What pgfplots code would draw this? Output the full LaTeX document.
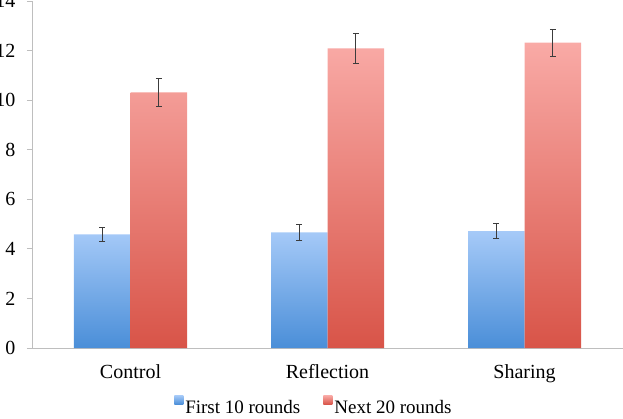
\documentclass[border=0pt]{standalone}
\usepackage{fontspec}
\setmainfont{Liberation Serif}
\usepackage{pgfplots}
\pgfplotsset{compat=1.18}

\definecolor{bluetop}{RGB}{166,202,248}
\definecolor{bluebot}{RGB}{74,142,216}
\definecolor{redtop}{RGB}{249,170,166}
\definecolor{redbot}{RGB}{216,84,72}
\definecolor{axisgray}{RGB}{190,190,190}
\definecolor{errgray}{RGB}{60,60,60}

\begin{document}
\begin{tikzpicture}
\begin{axis}[
  scale only axis,
  width=591bp, height=347bp,
  xmin=-0.5, xmax=2.5, ymin=0, ymax=14,
  ybar=0pt, bar width=56.5bp,
  xtick={0,1,2}, xticklabels={Control,Reflection,Sharing},
  ytick={0,2,...,14},
  axis x line*=bottom, axis y line*=left,
  axis line style={axisgray, line width=0.8bp},
  tick align=outside, major tick length=5bp,
  xtick style={draw=none},
  ytick style={axisgray, line width=0.8bp},
  /pgf/number format/assume math mode=true,
  tick label style={font=\fontsize{20bp}{24bp}\selectfont},
  yticklabel style={xshift=-8bp},
  xticklabel style={anchor=base, yshift=-25bp},
  legend style={
    at={(axis description cs:0.477,0)}, anchor=center, yshift=-58bp,
    draw=none, fill=none,
    font=\fontsize{19bp}{22bp}\selectfont,
    legend columns=2,
    /tikz/every even column/.append style={column sep=21bp},
  },
  legend image code/.code={\path[#1, draw=none] (0bp,3bp) rectangle (9bp,12bp);},
  error bars/error bar style={errgray, line width=0.9bp},
  error bars/error mark options={errgray, rotate=90, mark size=3bp, line width=0.9bp},
]
\addplot[draw=none, top color=bluetop, bottom color=bluebot,
  error bars/.cd, y dir=both, y explicit]
  coordinates {(0,4.58) +- (0,0.30) (1,4.66) +- (0,0.32) (2,4.72) +- (0,0.29)};
\addplot[draw=none, top color=redtop, bottom color=redbot,
  error bars/.cd, y dir=both, y explicit]
  coordinates {(0,10.31) +- (0,0.58) (1,12.09) +- (0,0.62) (2,12.32) +- (0,0.55)};
\legend{First 10 rounds, Next 20 rounds}
\coordinate (bl) at (rel axis cs:0,0);
\coordinate (tr) at (rel axis cs:1,1);
\end{axis}
\pgfresetboundingbox
\path[use as bounding box] ([xshift=-32bp,yshift=-71bp]bl) rectangle ([yshift=1bp]tr);
\end{tikzpicture}
\end{document}
